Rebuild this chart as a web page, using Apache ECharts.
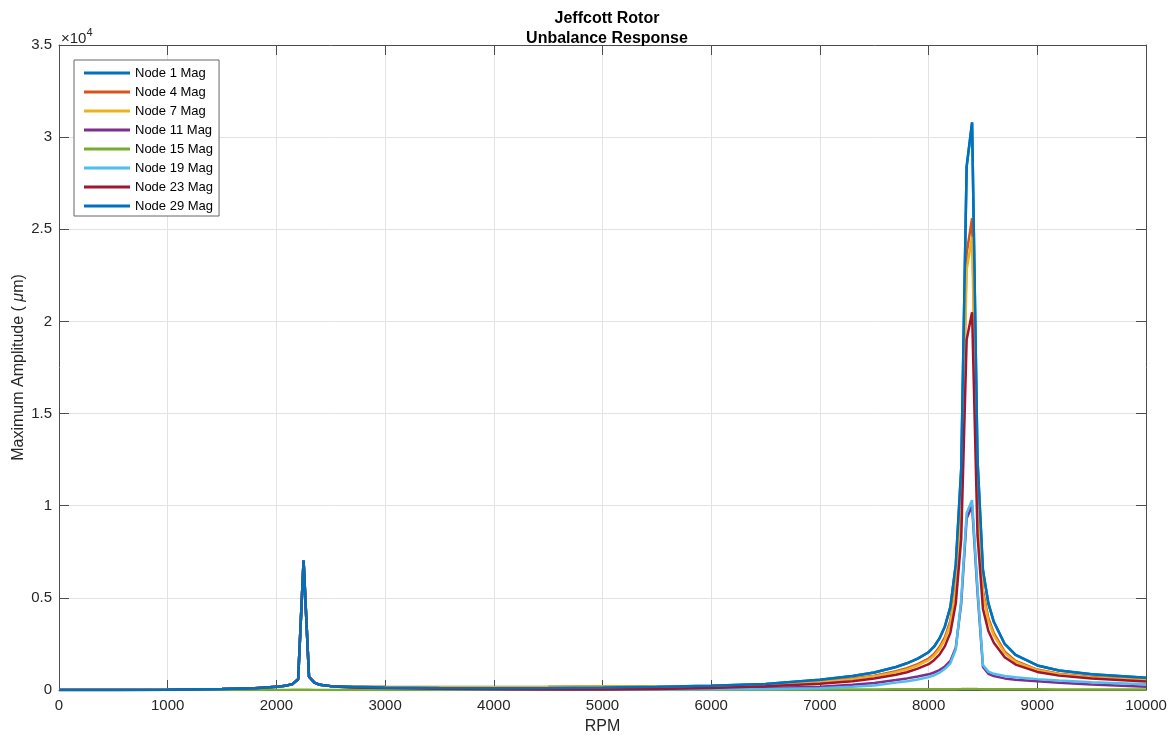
<!DOCTYPE html>
<html><head><meta charset="utf-8">
<script src="https://cdn.jsdelivr.net/npm/echarts@6/dist/echarts.min.js"></script>
<style>html,body{margin:0;padding:0;background:#fff}#c{width:1173px;height:735px}</style>
</head><body><div id="c"></div>
<script>
const rpm = [0,500,1000,1500,1800,2000,2100,2150,2200,2250,2300,2350,2400,2500,2700,3000,3500,4000,4500,5000,5500,6000,6500,7000,7300,7500,7700,7800,7900,8000,8050,8100,8150,8200,8250,8300,8350,8400,8450,8500,8550,8600,8700,8800,9000,9200,9500,10000];
const node1  = [0,5,20,50,100,170,250,330,580,7020,720,400,280,210,170,140,110,100,110,130,170,230,330,560,760,950,1250,1450,1700,2050,2350,2800,3450,4500,6800,12000,28400,30800,12500,6500,4700,3700,2500,1900,1330,1060,850,660];
const node4  = [0,5,20,50,100,170,250,330,580,7020,720,400,280,210,180,170,160,160,170,190,210,220,300,450,620,780,1020,1180,1400,1700,1950,2330,2870,3750,5700,10000,23700,25600,10400,5400,3900,3080,2080,1580,1110,880,710,550];
const node7  = [0,5,20,50,100,170,250,330,580,7020,720,400,280,210,175,165,155,155,165,185,200,210,285,425,590,740,970,1120,1330,1620,1860,2220,2740,3580,5450,9600,22800,24600,10000,5200,3750,2960,2000,1520,1070,850,680,525];
const node11 = [0,5,20,50,100,170,250,330,580,7020,720,400,280,210,130,100,70,50,40,40,50,70,110,180,280,380,540,630,730,850,950,1080,1280,1580,2300,4700,9300,10000,5300,1250,880,760,630,560,480,400,300,180];
const node15 = [0,0,1,2,3,5,6,7,8,10,8,6,5,4,4,5,6,8,10,12,14,17,20,25,28,30,34,36,38,40,41,42,43,45,47,50,55,56,50,45,42,40,38,36,34,32,30,28];
const node19 = [0,5,20,50,100,170,250,330,580,7020,720,400,280,210,120,90,60,40,30,25,30,40,60,100,170,250,400,480,570,700,800,940,1150,1450,2200,4900,9600,10300,5500,1350,1000,880,760,690,590,510,420,310];
const node23 = [0,5,20,50,100,170,250,330,580,7020,720,400,280,210,140,110,70,40,25,30,60,110,200,340,480,620,830,960,1160,1400,1620,1920,2380,3100,4700,8200,19000,20500,8400,4400,3200,2560,1780,1380,980,780,620,460];
const node29 = [0,5,20,50,100,170,250,330,580,7020,720,400,280,210,170,140,110,100,110,130,170,230,330,560,760,950,1250,1450,1700,2050,2350,2800,3450,4500,6800,12000,28400,30800,12500,6500,4700,3700,2500,1900,1330,1060,850,660];

const names = ['Node 1 Mag','Node 4 Mag','Node 7 Mag','Node 11 Mag','Node 15 Mag','Node 19 Mag','Node 23 Mag','Node 29 Mag'];
const values = [node1,node4,node7,node11,node15,node19,node23,node29];
const colors = ['#0072BD','#D95319','#EDB120','#7E2F8E','#77AC30','#4DBEEE','#A2142F','#0072BD'];
const xTicks = {min:0,max:10000,interval:1000};
const yTicks = {min:0,max:35000,interval:5000};

const FONT = 'Liberation Sans, Arial, Helvetica, sans-serif';
const axisCol = '#4d4d4d';
const chart = echarts.init(document.getElementById('c'), null, {renderer:'canvas'});
const baseAxis = {
  axisLine:{show:true,onZero:false,lineStyle:{color:axisCol,width:1}},
  axisTick:{show:true,inside:true,length:10,lineStyle:{color:axisCol}},
};
chart.setOption({
  animation:false,
  backgroundColor:'#ffffff',
  color:colors,
  title:{text:'Jeffcott Rotor\nUnbalance Response',left:602,top:4,textAlign:'center',
    textStyle:{fontFamily:FONT,fontSize:16,fontWeight:'bold',color:'#000',lineHeight:20}},
  grid:{left:59,right:27,top:45,bottom:45,containLabel:false,outerBoundsMode:'none'},
  legend:{orient:'vertical',left:74,top:60,padding:[6,6,3,10],itemWidth:46,itemHeight:14,itemGap:5,
    icon:'path://M0,0 L46,0 L46,3 L0,3 Z',
    backgroundColor:'#fff',borderColor:'#666',borderWidth:1,borderRadius:0,
    textStyle:{fontFamily:FONT,fontSize:13,color:'#000',lineHeight:14},data:names},
  xAxis:[
    Object.assign({type:'value',position:'bottom',min:xTicks.min,max:xTicks.max,interval:xTicks.interval,
      name:'RPM',nameLocation:'middle',nameGap:29,nameMoveOverlap:false,
      nameTextStyle:{fontFamily:FONT,fontSize:16,color:'#262626'},
      axisLabel:{fontFamily:FONT,fontSize:15,color:'#262626',margin:8,formatter:v=>String(v)},
      splitLine:{show:true,lineStyle:{color:'#e3e3e3',width:1}}},baseAxis),
    Object.assign({type:'value',position:'top',min:xTicks.min,max:xTicks.max,interval:xTicks.interval,
      axisLabel:{show:false},splitLine:{show:false}},baseAxis)
  ],
  yAxis:[
    Object.assign({type:'value',position:'left',min:yTicks.min,max:yTicks.max,interval:yTicks.interval,
      name:'Maximum Amplitude ( {i|μ}m)',nameLocation:'middle',nameGap:32,nameMoveOverlap:false,
      nameTextStyle:{fontFamily:FONT,fontSize:16,color:'#262626',
        rich:{i:{fontFamily:FONT,fontSize:16,fontStyle:'italic',color:'#262626'}}},
      axisLabel:{fontFamily:FONT,fontSize:15,color:'#262626',margin:7,formatter:v=>String(v/10000)},
      splitLine:{show:true,lineStyle:{color:'#e3e3e3',width:1}}},baseAxis),
    Object.assign({type:'value',position:'right',min:yTicks.min,max:yTicks.max,interval:yTicks.interval,
      axisLabel:{show:false},splitLine:{show:false}},baseAxis)
  ],
  graphic:[{type:'text',left:61,top:27,style:{
    text:'{a|×10}{s|4}',
    rich:{a:{fontFamily:FONT,fontSize:15,fill:'#262626',verticalAlign:'bottom'},
          s:{fontFamily:FONT,fontSize:11,fill:'#262626',verticalAlign:'top',padding:[0,0,8,0]}}}}],
  series: names.map((n,k)=>({
    name:n,type:'line',xAxisIndex:0,yAxisIndex:0,showSymbol:false,symbol:'none',
    lineStyle:{width:2.5,color:colors[k]},itemStyle:{color:colors[k]},
    data: rpm.map((r,i)=>[r,values[k][i]])
  }))
});
</script></body></html>
